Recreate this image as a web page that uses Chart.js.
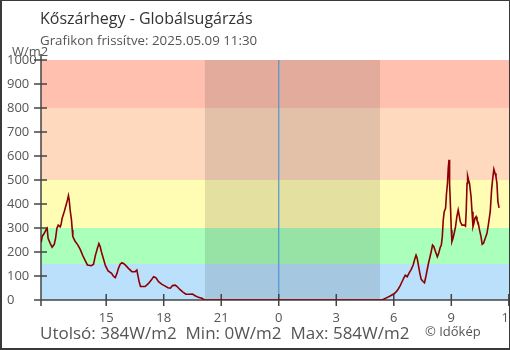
<!DOCTYPE html>
<html><head><meta charset="utf-8">
<script src="https://cdn.jsdelivr.net/npm/chart.js@4"></script>
<style>
html,body{margin:0;padding:0;background:#fff;overflow:hidden;width:510px;height:350px;}
#wrap{position:absolute;left:0;top:0;width:528px;height:350px;}
#frame{position:absolute;left:0;top:0;width:510px;height:350px;box-sizing:border-box;border:1px solid #3a3a3a;border-left-width:2px;border-bottom-width:2px;pointer-events:none;}
</style></head><body>
<div id="wrap"><canvas id="c" width="528" height="350"></canvas></div>
<div id="frame"></div>
<script>
// time in hours (values past 24 belong to the next day)
const times = [
 11.61,11.66,11.77,11.87,11.92,11.97,12.08,12.18,12.29,12.36,12.43,12.50,12.60,12.65,12.70,12.81,12.91,12.98,13.03,13.07,
 13.12,13.19,13.23,13.26,13.37,13.50,13.64,13.78,13.92,14.02,14.23,14.34,14.44,14.55,14.62,14.69,14.75,14.86,14.96,15.10,
 15.28,15.37,15.47,15.56,15.64,15.73,15.82,15.92,16.03,16.16,16.34,16.51,16.60,16.65,16.72,16.79,17.03,17.21,17.35,17.47,
 17.59,17.73,17.91,18.08,18.22,18.35,18.46,18.60,18.70,18.84,19.02,19.16,19.33,19.50,19.64,19.81,19.99,20.13,
 29.35,29.47,29.64,29.81,29.99,30.11,30.22,30.32,30.43,30.53,30.60,30.70,30.81,30.91,31.01,31.08,31.16,31.22,31.29,31.36,
 31.43,31.54,31.60,31.68,31.74,31.81,31.89,31.95,32.02,32.09,32.16,32.27,32.33,32.42,32.48,32.53,32.58,32.63,32.70,32.75,
 32.80,32.84,32.88,32.91,32.96,33.00,33.03,33.09,33.15,33.22,33.29,33.36,33.41,33.47,33.56,33.68,33.74,33.78,33.82,33.85,
 33.90,33.95,34.03,34.08,34.13,34.18,34.23,34.29,34.34,34.41,34.47,34.55,34.61,34.68,34.77,34.86,34.93,35.03,35.10,35.17,
 35.22,35.28,35.33,35.38,35.43,35.49
];
const radiation = [
 240,264,278,294,299,257,236,220,232,257,299,312,305,315,340,368,396,417,435,417,
 375,333,292,264,246,232,212,185,162,146,143,149,187,218,235,222,201,171,143,121,
 111,100,93,111,132,149,155,151,143,132,118,118,125,104,76,56,56,69,83,97,
 93,76,65,58,51,49,60,62,56,44,32,24,24,25,18,11,7,0,
 0,3,10,17,25,33,44,58,76,93,103,97,114,128,146,167,187,174,142,111,
 86,76,72,100,125,153,180,201,229,222,205,180,192,219,229,264,333,368,382,444,
 486,549,584,486,382,292,243,257,278,305,347,375,354,326,312,312,308,375,486,517,
 500,486,431,368,305,319,340,347,333,319,292,264,232,236,257,278,312,368,458,514,
 545,528,514,486,410,384
];
const xTicks = [15, 18, 21, 24, 27, 30, 33, 36];
const yTicks = [0, 100, 200, 300, 400, 500, 600, 700, 800, 900, 1000];
const bandLimits = [0, 150, 300, 500, 800, 1000];
const nightStart = 20.15, nightEnd = 29.28, midnight = 24;
const xMin = 11.6, xMax = 37;
const titleText = 'Kőszárhegy - Globálsugárzás';
const subtitleText = 'Grafikon frissítve: 2025.05.09 11:30';
const unitText = 'W/m2';
const statsText = 'Utolsó: 384W/m2  Min: 0W/m2  Max: 584W/m2';
const creditText = '© Időkép';

const bandColors = ['#bbe0fc', '#aaffbb', '#fffcb4', '#ffd9be', '#ffc0b0'];

Chart.defaults.font.family = '"Open Sans", "Noto Sans", sans-serif';

const decor = {
  id: 'decor',
  beforeDatasetsDraw(chart) {
    const {ctx, chartArea: a, scales: {x, y}} = chart;
    ctx.save();
    for (let i = 0; i < bandLimits.length - 1; i++) {
      const y0 = y.getPixelForValue(bandLimits[i]), y1 = y.getPixelForValue(bandLimits[i + 1]);
      ctx.fillStyle = bandColors[i];
      ctx.fillRect(a.left, y1, a.right - a.left, y0 - y1);
    }
    const n0 = x.getPixelForValue(nightStart), n1 = x.getPixelForValue(nightEnd);
    ctx.fillStyle = 'rgba(0,0,0,0.11)';
    ctx.fillRect(n0, a.top, n1 - n0, a.bottom - a.top);
    const m = x.getPixelForValue(midnight);
    ctx.strokeStyle = '#4a98d4'; ctx.lineWidth = 1.2;
    ctx.beginPath(); ctx.moveTo(m, a.top); ctx.lineTo(m, a.bottom); ctx.stroke();
    ctx.strokeStyle = '#444'; ctx.lineWidth = 1.5;
    ctx.beginPath();
    ctx.moveTo(a.left, a.top - 6); ctx.lineTo(a.left, a.bottom);
    ctx.moveTo(a.left - 7, a.bottom); ctx.lineTo(a.right, a.bottom);
    x.ticks.forEach(t => { const p = x.getPixelForValue(t.value); ctx.moveTo(p, a.bottom - 6); ctx.lineTo(p, a.bottom + 6); });
    y.ticks.forEach(t => { const p = y.getPixelForValue(t.value); ctx.moveTo(a.left - 7, p); ctx.lineTo(a.left + 6, p); });
    ctx.stroke();
    ctx.restore();
  },
  afterDraw(chart) {
    const ctx = chart.ctx;
    ctx.save();
    ctx.textBaseline = 'alphabetic'; ctx.textAlign = 'left';
    ctx.fillStyle = '#333'; ctx.font = '16px "Open Sans"';
    ctx.fillText(titleText, 40, 24);
    ctx.fillStyle = '#555'; ctx.font = '13.3px "Open Sans"';
    ctx.fillText(subtitleText, 40, 45);
    ctx.font = '13px "Open Sans"';
    ctx.fillText(unitText, 12, 56);
    ctx.font = '17px "Open Sans"';
    ctx.fillText(statsText, 40, 339);
    ctx.font = '13px "Open Sans"';
    ctx.fillText(creditText, 425, 336);
    ctx.restore();
  }
};

new Chart(document.getElementById('c'), {
  type: 'line',
  data: { datasets: [{
    data: times.map((t, i) => ({x: t, y: radiation[i]})),
    borderColor: '#8b0000', borderWidth: 1.6, pointRadius: 0, tension: 0, fill: false
  }]},
  options: {
    responsive: false, animation: false,
    layout: { padding: { left: 7, top: 60, right: 0, bottom: 0 } },
    plugins: { legend: { display: false }, tooltip: { enabled: false } },
    scales: {
      x: {
        type: 'linear', min: xMin, max: xMax,
        grid: { display: false }, border: { display: false },
        afterBuildTicks: s => { s.ticks = [{value: xMin}].concat(xTicks.map(v => ({value: v}))); },
        afterFit: s => { s.height = 50; },
        ticks: { padding: 2, color: '#555', font: { size: 13 }, maxRotation: 0, autoSkip: false,
          callback: v => xTicks.includes(v) ? String(v % 24) : '' }
      },
      y: {
        min: 0, max: 1000,
        grid: { display: false }, border: { display: false },
        afterBuildTicks: s => { s.ticks = yTicks.map(v => ({value: v})); },
        afterFit: s => { s.width = 34; },
        ticks: { crossAlign: 'far', padding: 0, color: '#555', font: { size: 13 }, callback: v => String(v) }
      }
    }
  },
  plugins: [decor]
});
</script>
</body></html>
